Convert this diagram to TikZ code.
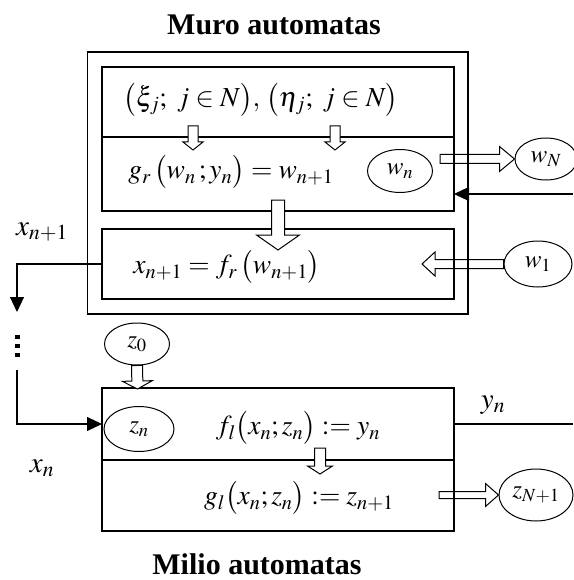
\documentclass[tikz,border=0pt]{standalone}
\usepackage{mathptmx}
\usepackage[no-math]{fontspec}
\setmainfont{Liberation Serif}
\usetikzlibrary{shapes.geometric,arrows.meta,calc}
\tikzset{
  boxpart/.style={draw, line width=1.2pt, rectangle, inner sep=0pt, outer sep=0pt, anchor=north west},
  oval/.style={draw, line width=1pt, ellipse, inner sep=0pt, font=\fontsize{25}{27}\selectfont},
  formula/.style={inner sep=0pt, font=\fontsize{27.5}{30}\selectfont},
  lbl/.style={inner sep=0pt, font=\fontsize{29}{31}\selectfont},
  ttl/.style={inner sep=0pt, font=\fontsize{30}{34}\selectfont\bfseries},
  conn/.style={line width=1.1pt},
  tipped/.style={conn, -{Triangle[length=15pt,width=14pt]}},
  hollow/.style args={#1/#2/#3}{line width=1pt, line join=miter, to path={
      ($(\tikztotarget)!#3!(\tikztostart)$) coordinate (hC)
      ($(\tikztostart)!#1!90:(\tikztotarget)$) -- ($(hC)!#1!90:(\tikztotarget)$)
      -- ($(hC)!#2!90:(\tikztotarget)$) -- (\tikztotarget)
      -- ($(hC)!#2!-90:(\tikztotarget)$) -- ($(hC)!#1!-90:(\tikztotarget)$)
      -- ($(\tikztostart)!#1!-90:(\tikztotarget)$) -- cycle}}
}
\begin{document}
\begin{tikzpicture}[x=1pt,y=-1pt]
\useasboundingbox (0,0) rectangle (573,580);
% titles
\node[ttl] (muro) at (274,25) {Muro automatas};
\node[ttl] (milio) at (257,564) {Milio automatas};
% boxes
\node[boxpart, minimum width=380.5pt, minimum height=262pt] (outer) at (87.5,52) {};
\node[boxpart, minimum width=352pt, minimum height=70pt] (b1a) at (102,67) {};
\node[boxpart, minimum width=352pt, minimum height=74pt] (b1b) at (102,137) {};
\node[boxpart, minimum width=352pt, minimum height=70pt] (b2) at (102,229) {};
\node[boxpart, minimum width=352pt, minimum height=72pt] (m1) at (102,388) {};
\node[boxpart, minimum width=352pt, minimum height=71pt] (m2) at (102,460) {};
% formulas
\node[formula] (t1) at (261,100) {$\bigl(\xi_j;\ j\in N\bigr),\,\bigl(\eta_j;\ j\in N\bigr)$};
\node[formula] (t2) at (231,172) {$g_r\,\bigl(w_n\,;y_n\bigr) = w_{n+1}$};
\node[formula] (t3) at (227,267) {$x_{n+1} = f_r\,\bigl(w_{n+1}\bigr)$};
\node[formula] (t4) at (298,428) {$f_l\bigl(x_n;z_n\bigr)\mathrel{:}= y_n$};
\node[formula] (t5) at (299,498) {$g_l\bigl(x_n;z_n\bigr)\mathrel{:}= z_{n+1}$};
% ellipses
\node[oval, minimum width=65pt, minimum height=43pt] (wn) at (400,171) {$w_n$};
\node[oval, minimum width=62pt, minimum height=42pt] (wN) at (546,159) {$w_N$};
\node[oval, minimum width=68pt, minimum height=46pt] (w1) at (538,264) {$w_1$};
\node[oval, minimum width=65pt, minimum height=42pt] (z0) at (137,344) {$z_0$};
\node[oval, minimum width=70pt, minimum height=45pt] (zn) at (139,429) {$z_n$};
\node[oval, minimum width=74pt, minimum height=52pt] (zN1) at (536,495) {$z_{N+1}$};
% labels
\node[lbl] (lx1) at (42,232) {$x_{n+1}$};
\node[lbl] (lxn) at (42,468) {$x_n$};
\node[lbl] (lyn) at (493,405) {$y_n$};
% helper coordinates
\coordinate (s1) at (193,126);
\coordinate (e1) at (193,150);
\coordinate (s2) at (335,126);
\coordinate (e2) at (335,150);
\coordinate (s3) at (278,200);
\coordinate (e3) at (278,250);
\coordinate (e4) at (137.5,389);
\coordinate (s5) at (320,448);
\coordinate (e5) at (320,474);
\coordinate (s6) at (440,159);
\coordinate (e7) at (422,264);
\coordinate (s8) at (439,495);
\coordinate (xa) at (17,312);
\coordinate (xb) at (17,370);
\coordinate (rin) at (573,194);
\coordinate (yout) at (573,424);
% hollow block arrows
\draw[hollow=5pt/10pt/8pt, fill=white] (s1) to (e1);
\draw[hollow=5pt/10pt/8pt, fill=white] (s2) to (e2);
\draw[hollow=6.5pt/21.5pt/15pt, fill=white] (s3) to (e3);
\draw[hollow=5.5pt/15pt/8pt, fill=white] (z0.south) to (e4);
\draw[hollow=5.5pt/12.5pt/8pt, fill=white] (s5) to (e5);
\draw[hollow=4.5pt/12.5pt/15pt] (s6) to (wN.west);
\draw[hollow=4.5pt/12pt/13pt] (w1.west) to (e7);
\draw[hollow=3.5pt/11.5pt/13pt] (s8) to (zN1.west);
% line connectors
\draw[tipped] (b2.west) -| (xa);
\draw[tipped] (xb) |- (m1.west);
\draw[tipped] (rin) -- (rin -| b1b.east);
\draw[conn] (m1.east) -- (yout);
% vertical dots
\foreach \yy in {337,346,355} \fill (15,\yy-2) rectangle (19.5,\yy+2);
\end{tikzpicture}
\end{document}
